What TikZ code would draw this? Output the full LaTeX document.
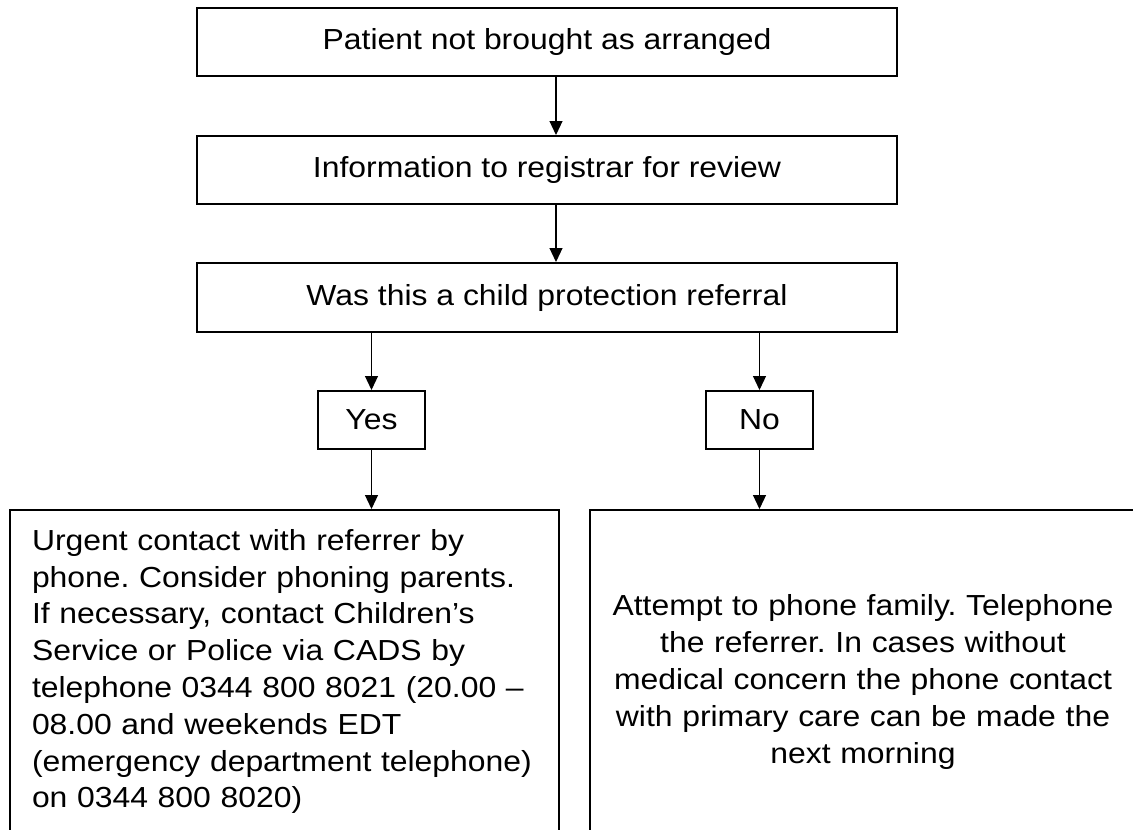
\documentclass[tikz,border=0pt]{standalone}
\usepackage{fontspec}
\setmainfont{Liberation Sans}[FakeStretch=1.10]
\usepackage{tikz}
\usetikzlibrary{arrows.meta}
\frenchspacing

\begin{document}
\begin{tikzpicture} [x=1pt, y=-1pt,
	font=\fontsize{29}{36.8}\selectfont,
	box/.style={draw, line width=2pt, minimum width=700, minimum height=68, inner sep=0pt},
	choice/.style={draw, line width=2pt, minimum width=107, minimum height=58, inner sep=0pt},
	outcome/.style={draw, line width=2pt, anchor=north west, inner ysep=0pt},
	flow/.style={-{Triangle[length=14pt, width=13pt]}, line width=1.2pt}]
	
	\useasboundingbox (0,0) rectangle (1133,830);
	\clip (0,0) rectangle (1133,830);
	
	% main column
	\node[box] (arranged) at (547,42) {Patient not brought as arranged};
	\node[box] (registrar) at (547,170) {Information to registrar for review};
	\node[box, minimum height=69] (referral) at (547,297.5) {Was this a child protection referral};
	
	% answers
	\node[choice] (yes) at (371.5,420) {Yes};
	\node[choice] (no) at (759.5,420) {No};
	
	% outcomes, running past the bottom of the page
	\node[outcome, minimum width=549, minimum height=323, inner xsep=22pt, text width=505pt, align=left] (urgent) at (9,509)
		{Urgent contact with referrer by\\
		phone. Consider phoning parents.\\
		If necessary, contact Children’s\\
		Service or Police via CADS by\\
		telephone 0344 800 8021 (20.00 –\\
		08.00 and weekends EDT\\
		(emergency department telephone)\\
		on 0344 800 8020)};
	\node[outcome, minimum width=546, minimum height=344, inner xsep=10pt, text width=526pt, align=center] (family) at (589,509)
		{Attempt to phone family. Telephone\\
		the referrer. In cases without\\
		medical concern the phone contact\\
		with primary care can be made the\\
		next morning};
	
	\draw[flow] ([xshift=9pt]arranged.south) -- ([xshift=9pt]registrar.north);
	\draw[flow] ([xshift=9pt]registrar.south) -- ([xshift=9pt]referral.north);
	\draw[flow] (yes.north |- referral.south) -- (yes.north);
	\draw[flow] (no.north |- referral.south) -- (no.north);
	\draw[flow] (yes.south) -- (yes.south |- urgent.north);
	\draw[flow] (no.south) -- (no.south |- family.north);
	
\end{tikzpicture}
\end{document}
